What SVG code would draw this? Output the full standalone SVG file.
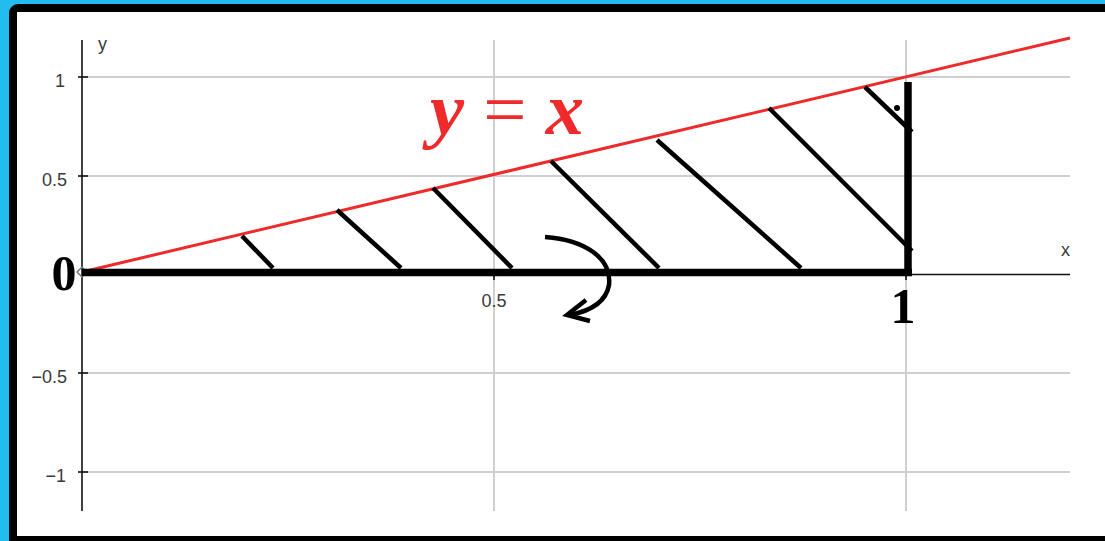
<svg xmlns="http://www.w3.org/2000/svg" width="1105" height="541" viewBox="0 0 1105 541">
  <style>
    .grid { stroke: #cfcfcf; stroke-width: 2; fill: none; }
    .axis { stroke: #111111; stroke-width: 1.6; fill: none; }
    .tick { font-family: "Liberation Sans", "DejaVu Sans", sans-serif; font-size: 18px; fill: #3a3a3a; }
    .hatch { stroke: #000000; stroke-width: 4.5; stroke-linecap: butt; fill: none; }
    .thick { stroke: #000000; stroke-width: 7.5; fill: none; }
    .big { font-family: "Liberation Serif", "DejaVu Serif", serif; font-weight: bold; font-size: 50px; fill: #000000; }
  </style>
  <rect x="0" y="0" width="1105" height="541" fill="#22bdee"/>
  <rect x="9" y="4" width="1110" height="550" rx="9" fill="#000000"/>
  <rect x="17" y="12" width="1100" height="524" fill="#ffffff"/>

  <g id="grid">
    <line class="grid" x1="82" y1="77" x2="1070" y2="77"/>
    <line class="grid" x1="82" y1="176" x2="1070" y2="176"/>
    <line class="grid" x1="82" y1="373" x2="1070" y2="373"/>
    <line class="grid" x1="82" y1="472" x2="1070" y2="472"/>
    <line class="grid" x1="494" y1="40" x2="494" y2="511"/>
    <line class="grid" x1="906" y1="40" x2="906" y2="511"/>
  </g>

  <g id="axes">
    <line class="axis" x1="82" y1="40" x2="82" y2="511"/>
    <line class="axis" x1="82" y1="274.5" x2="1070" y2="274.5"/>
    <line class="axis" x1="78" y1="77" x2="88" y2="77"/>
    <line class="axis" x1="78" y1="176" x2="88" y2="176"/>
    <line class="axis" x1="78" y1="373" x2="88" y2="373"/>
    <line class="axis" x1="78" y1="472" x2="88" y2="472"/>
    <line class="axis" x1="494" y1="270" x2="494" y2="280"/>
    <line class="axis" x1="906" y1="270" x2="906" y2="280"/>
    <path d="M82,267 L87,272 L82,277 L77,272 Z" fill="none" stroke="#777777" stroke-width="1.5"/>
    <text class="tick" x="98" y="50">y</text>
    <text class="tick" x="1061" y="256">x</text>
    <text class="tick" x="65" y="87" text-anchor="end">1</text>
    <text class="tick" x="67" y="186" text-anchor="end">0.5</text>
    <text class="tick" x="67" y="383" text-anchor="end">−0.5</text>
    <text class="tick" x="66" y="482" text-anchor="end">−1</text>
    <text class="tick" x="494" y="307" text-anchor="middle">0.5</text>
  </g>

  <g id="curve">
    <line x1="82" y1="272" x2="1070" y2="38" stroke="#ee2a2a" stroke-width="3"/>
    <text x="430" y="134" font-family="Liberation Serif, DejaVu Serif, serif" font-size="74" fill="#ee2a2a" textLength="154" lengthAdjust="spacingAndGlyphs"><tspan font-weight="bold" font-style="italic">y</tspan> = <tspan font-weight="bold" font-style="italic">x</tspan></text>
  </g>

  <g id="region">
    <line class="thick" x1="82" y1="272.5" x2="912" y2="272.5"/>
    <line class="thick" x1="908" y1="82" x2="908" y2="276"/>
    <line class="hatch" x1="242" y1="236" x2="273" y2="268"/>
    <line class="hatch" x1="337" y1="210" x2="401" y2="268"/>
    <line class="hatch" x1="433" y1="188" x2="512" y2="268"/>
    <line class="hatch" x1="551" y1="161" x2="659" y2="268"/>
    <line class="hatch" x1="657" y1="140" x2="801" y2="268"/>
    <line class="hatch" x1="769" y1="108" x2="912" y2="251"/>
    <line class="hatch" x1="865" y1="87" x2="912" y2="132"/>
    <circle cx="897" cy="108" r="3" fill="#000000"/>
  </g>

  <g id="connectors">
    <path d="M545,237 C585,240 612,258 609,285 C606,302 590,311 570,315" fill="none" stroke="#000000" stroke-width="4.5"/>
    <path d="M586,300 L567,315 L590,321" fill="none" stroke="#000000" stroke-width="4.5"/>
  </g>

  <g id="labels">
    <text class="big" x="64" y="290" text-anchor="middle">0</text>
    <text class="big" x="903" y="323" text-anchor="middle">1</text>
  </g>
</svg>
